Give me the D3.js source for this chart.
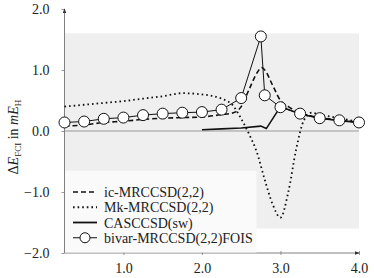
<!DOCTYPE html>
<html>
<head>
<meta charset="utf-8">
<script src="https://cdn.jsdelivr.net/npm/d3@7"></script>
<style>
body { margin: 0; background: #fff; }
svg text { font-family: "Liberation Serif", "Times New Roman", "DejaVu Serif", serif !important; }
</style>
</head>
<body>
<svg id="chart" width="374" height="278"></svg>
<script>
// data (bond distance vs error in mEh)
var icX = [0.25, 0.5, 0.75, 1.0, 1.25, 1.5, 1.75, 2.0, 2.25, 2.4, 2.5, 2.6, 2.7, 2.76, 2.8, 2.9, 3.0, 3.1, 3.25, 3.5, 3.75, 4.0];
var icY = [0.08, 0.10, 0.14, 0.16, 0.19, 0.21, 0.22, 0.23, 0.27, 0.30, 0.40, 0.68, 0.95, 1.04, 1.00, 0.75, 0.50, 0.40, 0.30, 0.22, 0.18, 0.14];

var mkX = [0.25, 0.5, 0.75, 1.0, 1.25, 1.5, 1.75, 2.0, 2.25, 2.4, 2.5, 2.6, 2.7, 2.8, 2.9, 3.0, 3.1, 3.2, 3.3, 3.4, 3.5, 3.75, 4.0];
var mkY = [0.40, 0.43, 0.46, 0.49, 0.53, 0.57, 0.62, 0.60, 0.53, 0.41, 0.20, -0.05, -0.35, -0.80, -1.20, -1.42, -1.00, -0.30, 0.18, 0.30, 0.27, 0.21, 0.15];

var casX = [2.0, 2.25, 2.5, 2.75, 2.82, 3.0, 3.25, 3.5, 3.75, 4.0];
var casY = [0.02, 0.035, 0.05, 0.08, 0.04, 0.40, 0.28, 0.21, 0.17, 0.14];

var bivX = [0.25, 0.5, 0.75, 1.0, 1.25, 1.5, 1.75, 2.0, 2.25, 2.5, 2.75, 2.8, 3.0, 3.25, 3.5, 3.75, 4.0];
var bivY = [0.14, 0.155, 0.20, 0.22, 0.26, 0.285, 0.30, 0.31, 0.35, 0.54, 1.55, 0.585, 0.39, 0.285, 0.21, 0.175, 0.14];

var xTicks = [1.0, 2.0, 3.0, 4.0];
var yTicks = [-2.0, -1.0, 0.0, 1.0, 2.0];
var legendNames = ["ic-MRCCSD(2,2)", "Mk-MRCCSD(2,2)", "CASCCSD(sw)", "bivar-MRCCSD(2,2)FOIS"];

var serif = "'Liberation Serif', 'Times New Roman', 'DejaVu Serif', serif";
var svg = d3.select("#chart");

var x = d3.scaleLinear().domain([0.25, 4.0]).range([64.5, 359]);
var y = d3.scaleLinear().domain([-2.0, 2.0]).range([253, 9]);

function zip(xs, ys) { return xs.map(function(v, i) { return {x: v, y: ys[i]}; }); }
var ic = zip(icX, icY), mk = zip(mkX, mkY), cas = zip(casX, casY), biv = zip(bivX, bivY);

// gray band = chemical accuracy (+-1.6 mEh)
svg.append("rect")
	.attr("x", x(0.25)).attr("y", y(1.6))
	.attr("width", x(4.0) - x(0.25)).attr("height", y(-1.6) - y(1.6))
	.attr("fill", "#efefef");

// zero line
svg.append("line")
	.attr("x1", x(0.25)).attr("x2", x(4.0))
	.attr("y1", y(0)).attr("y2", y(0))
	.attr("stroke", "#999").attr("stroke-width", 1);

// arrow marker
svg.append("defs").append("marker")
	.attr("id", "arrow").attr("viewBox", "0 0 6 6")
	.attr("refX", 5).attr("refY", 3)
	.attr("markerWidth", 5).attr("markerHeight", 5)
	.attr("orient", "auto")
	.append("path").attr("d", "M0,0.8L6,3L0,5.2Z").attr("fill", "#333");

var fmt = function(d) { return d3.format(".1f")(d).replace("-", "\u2212"); };

// axes
var gx = svg.append("g").attr("transform", "translate(0," + y(-2) + ")")
	.call(d3.axisBottom(x).tickValues(xTicks).tickFormat(fmt).tickSize(2).tickPadding(8));
var gy = svg.append("g").attr("transform", "translate(" + x(0.25) + ",0)")
	.call(d3.axisLeft(y).tickValues(yTicks).tickFormat(fmt).tickSize(3).tickPadding(12));
[gx, gy].forEach(function(g) {
	g.attr("font-family", serif);
	g.select(".domain").remove();
	g.selectAll(".tick line").attr("stroke", "#999");
	g.selectAll(".tick text").attr("font-size", 14).attr("fill", "#222")
		.attr("font-family", serif);
});
gx.selectAll(".tick line").attr("y1", -2).attr("y2", 2);

svg.append("line")
	.attr("x1", x(0.25)).attr("x2", x(0.25))
	.attr("y1", y(-2)).attr("y2", y(2))
	.attr("stroke", "#808080").attr("stroke-width", 1)
	.attr("marker-end", "url(#arrow)");
svg.append("line")
	.attr("x1", x(0.25)).attr("x2", x(4.0))
	.attr("y1", y(-2)).attr("y2", y(-2))
	.attr("stroke", "#808080").attr("stroke-width", 1)
	.attr("marker-end", "url(#arrow)");

// y label
var lab = svg.append("text")
	.attr("transform", "translate(18," + y(-0.1) + ") rotate(-90)")
	.attr("text-anchor", "middle").attr("font-size", 14).attr("fill", "#222")
	.attr("font-family", serif);
lab.append("tspan").text("\u0394");
lab.append("tspan").attr("font-style", "italic").text("E");
lab.append("tspan").attr("font-size", 9).attr("dy", 3).text("FCI");
lab.append("tspan").attr("dy", -3).text(" in ");
lab.append("tspan").attr("font-style", "italic").text("mE");
lab.append("tspan").attr("font-size", 9).attr("dy", 3).text("H");

// lines
var lin = d3.line().x(function(d) { return x(d.x); }).y(function(d) { return y(d.y); });
var smooth = d3.line().curve(d3.curveMonotoneX).x(function(d) { return x(d.x); }).y(function(d) { return y(d.y); });

svg.append("path").attr("d", smooth(mk)).attr("fill", "none")
	.attr("stroke", "#111").attr("stroke-width", 1.8).attr("stroke-dasharray", "1.6,3").attr("stroke-linecap", "butt");
svg.append("path").attr("d", smooth(ic)).attr("fill", "none")
	.attr("stroke", "#111").attr("stroke-width", 1.6).attr("stroke-dasharray", "5,3");
svg.append("path").attr("d", lin(cas)).attr("fill", "none")
	.attr("stroke", "#111").attr("stroke-width", 1.6);
svg.append("path").attr("d", lin(biv)).attr("fill", "none")
	.attr("stroke", "#111").attr("stroke-width", 1);
svg.selectAll("circle.biv").data(biv).enter().append("circle")
	.attr("class", "biv")
	.attr("cx", function(d) { return x(d.x); }).attr("cy", function(d) { return y(d.y); })
	.attr("r", 5.5).attr("fill", "#fff").attr("stroke", "#111").attr("stroke-width", 1);

// legend
var lg = svg.append("g");
lg.append("rect")
	.attr("x", x(0.25) + 0.5).attr("y", y(-0.65))
	.attr("width", 256 - x(0.25)).attr("height", y(-2) - y(-0.65) - 0.5)
	.attr("fill", "#fafafa");
var rowY = [-1.0, -1.25, -1.5, -1.75];
var styles = [
	{dash: "5,3", w: 1.6},
	{dash: "1.6,3", w: 1.8},
	{dash: null, w: 1.8},
	{dash: null, w: 1}
];
legendNames.forEach(function(name, i) {
	var yy = y(rowY[i]);
	lg.append("line").attr("x1", 73).attr("x2", 97).attr("y1", yy).attr("y2", yy)
		.attr("stroke", "#111").attr("stroke-width", styles[i].w)
		.attr("stroke-dasharray", styles[i].dash);
	if (i == 3) {
		lg.append("circle").attr("cx", 85).attr("cy", yy).attr("r", 5)
			.attr("fill", "#fff").attr("stroke", "#111");
	}
	lg.append("text").attr("x", 104).attr("y", yy + 5)
		.attr("font-size", 14).attr("fill", "#222").attr("font-family", serif).text(name);
});
</script>
</body>
</html>
